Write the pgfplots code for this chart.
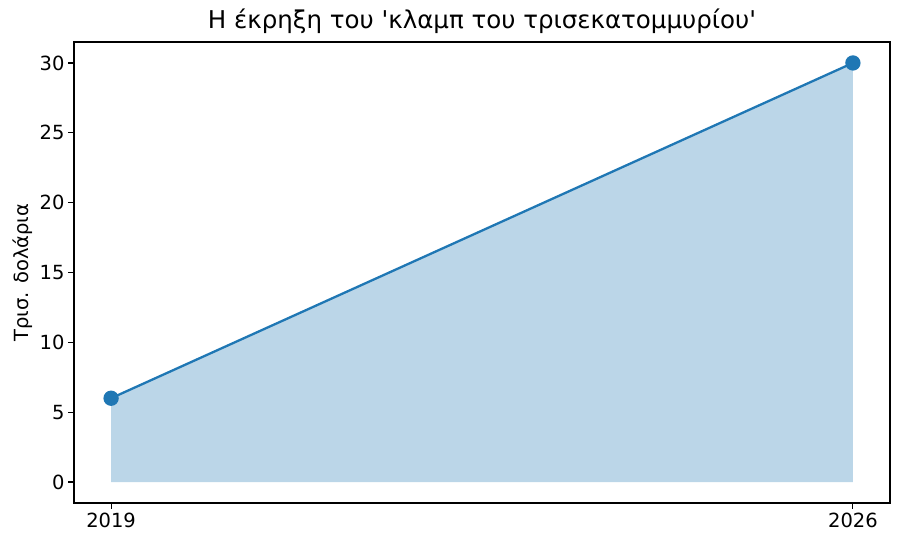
\documentclass[border=0pt]{standalone}
\usepackage{pgfplots}
\pgfplotsset{compat=1.18}
\usepackage{fontspec}
\setmainfont{DejaVu Sans}
\newfontfamily\dvplain{DejaVu Sans}[Mapping=]
\definecolor{tabblue}{HTML}{1F77B4}
\begin{document}
\begin{tikzpicture}
\begin{axis}[
  scale only axis,
  width=816pt, height=461pt,
  xmin=2018.65, xmax=2026.35,
  ymin=-1.5, ymax=31.5,
  xtick={2019,2026},
  xticklabels={2019,2026},
  ytick={0,5,10,15,20,25,30},
  tick align=outside,
  major tick length=6pt,
  tick style={black, line width=1.1pt},
  axis line style={line width=1.1pt},
  xtick pos=bottom, ytick pos=left,
  /pgf/number format/assume math mode=true,
  ticklabel style={font=\fontsize{19.5}{23}\selectfont},
  title={Η έκρηξη του 'κλαμπ του τρισεκατομμυρίου'},
  title style={font=\dvplain\fontsize{24.5}{29}\selectfont, yshift=-1pt},
  ylabel={Τρισ. δολάρια},
  ylabel style={font=\fontsize{19.5}{23}\selectfont},
]
\addplot[draw=none, fill=tabblue, fill opacity=0.3] coordinates {(2019,0) (2019,6) (2026,30) (2026,0)} \closedcycle;
\addplot[tabblue, line width=2.3pt, mark=*, mark size=6.5pt, mark options={fill=tabblue, draw=tabblue}] coordinates {(2019,6) (2026,30)};
\end{axis}
\pgfresetboundingbox
\path[use as bounding box] (-74pt,-46pt) rectangle (824pt,503pt);
\end{tikzpicture}
\end{document}
